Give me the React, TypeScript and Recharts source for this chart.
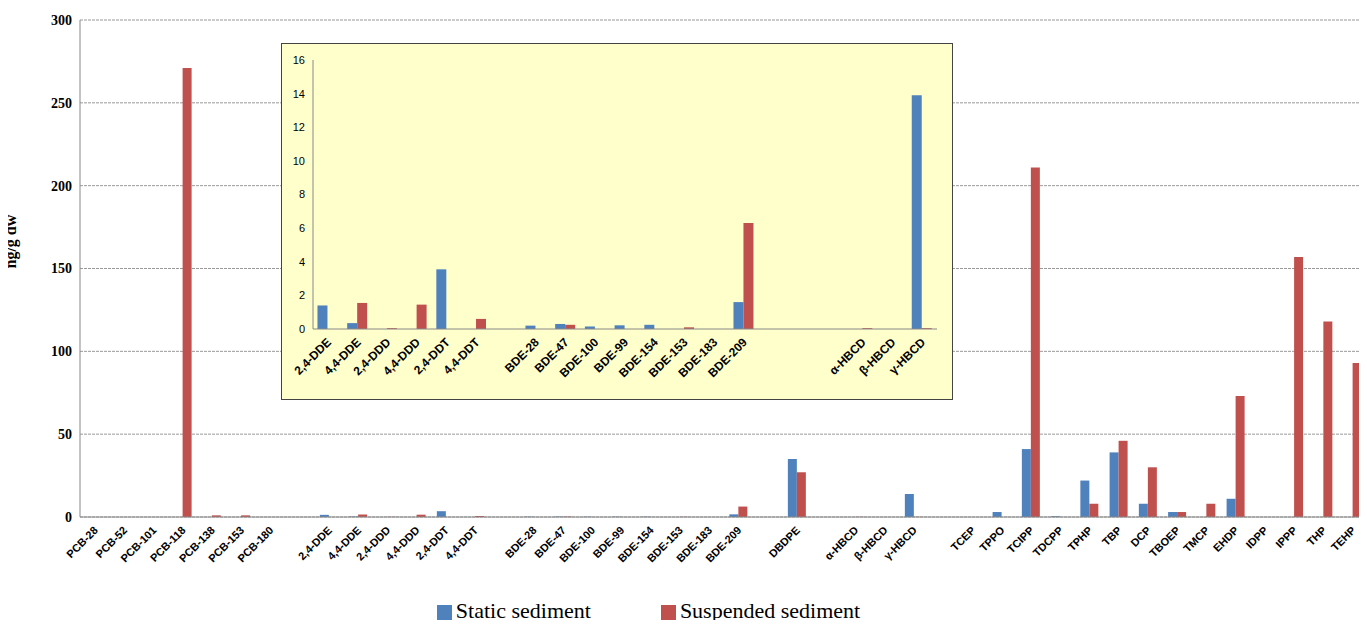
import React from 'react';
import { BarChart, Bar, XAxis, YAxis, CartesianGrid, Legend } from 'recharts';

const categories = ['PCB-28','PCB-52','PCB-101','PCB-118','PCB-138','PCB-153','PCB-180','',
  '2,4-DDE','4,4-DDE','2,4-DDD','4,4-DDD','2,4-DDT','4,4-DDT',' ',
  'BDE-28','BDE-47','BDE-100','BDE-99','BDE-154','BDE-153','BDE-183','BDE-209','  ',
  'DBDPE','   ','α-HBCD','β-HBCD','γ-HBCD','    ',
  'TCEP','TPPO','TCIPP','TDCPP','TPHP','TBP','DCP','TBOEP','TMCP','EHDP','IDPP','IPPP','THP','TEHP'];
const staticVals = [0,0,0,0,0,0,0,0, 1.3,0.3,0,0,3.5,0,0, 0.2,0.25,0.15,0.2,0.2,0,0,1.6,0, 35,0,0,0,13.9,0,
  0,3,41,0.5,22,39,8,3,0,11,0,0,0,0];
const suspendedVals = [0,0,0,271,1,1,0,0, 0,1.5,0.1,1.4,0,0.6,0, 0,0.25,0,0,0,0.1,0,6.3,0, 27,0,0.1,0,0.1,0,
  0,0,211,0,8,46,30,3,8,73,0,157,118,93];
const mainTicks = [0, 50, 100, 150, 200, 250, 300];

const insetCats = ['2,4-DDE','4,4-DDE','2,4-DDD','4,4-DDD','2,4-DDT','4,4-DDT','',
  'BDE-28','BDE-47','BDE-100','BDE-99','BDE-154','BDE-153','BDE-183','BDE-209',' ','  ','   ',
  'α-HBCD','β-HBCD','γ-HBCD'];
const insetStatic = [1.4,0.35,0,0,3.55,0,0, 0.2,0.3,0.15,0.22,0.25,0,0,1.6,0,0,0, 0,0,13.9];
const insetSusp = [0,1.55,0.05,1.45,0,0.6,0, 0,0.25,0,0,0,0.1,0,6.3,0,0,0, 0.05,0,0.05];
const insetTicks = [0,2,4,6,8,10,12,14,16];

const BLUE = '#4F81BD';
const RED = '#C0504D';

const mainData = categories.map((c, i) => ({ name: c, s: staticVals[i], p: suspendedVals[i] }));
const insetData = insetCats.map((c, i) => ({ name: c, s: insetStatic[i], p: insetSusp[i] }));

const RotTick = (props: any) => {
  const { x, y, payload, fs = 11 } = props;
  return (
    <text x={x + 4} y={y + 6} transform={`rotate(-45 ${x + 4} ${y + 6})`} textAnchor="end"
      fontFamily="Arial" fontWeight="bold" fontSize={fs} fill="#000">{payload.value}</text>
  );
};

export default function App() {
  return (
    <div style={{ margin: -8, position: 'relative', width: 1367, height: 628, background: '#fff' }}>
      <BarChart width={1367} height={628} data={mainData} barCategoryGap="20%" barGap={0}
        margin={{ top: 20, right: 0, left: 0, bottom: 0 }}>
        <CartesianGrid vertical={false} stroke="#999" strokeDasharray="3 1" />
        <XAxis dataKey="name" interval={0} tick={<RotTick />} height={70} stroke="#888" tickLine={false} />
        <YAxis domain={[0, 300]} ticks={mainTicks} width={80} stroke="#888" tickLine={false}
          tick={{ fontFamily: 'Times New Roman, Liberation Serif', fontWeight: 'bold', fontSize: 14, fill: '#000' }}
          label={{ value: 'ng/g dw', angle: -90, position: 'insideLeft', offset: 10,
            style: { fontFamily: 'Liberation Serif', fontWeight: 'bold', fontSize: 16, fill: '#000' } }} />
        <Legend verticalAlign="bottom" height={41} iconType="square" iconSize={15}
          wrapperStyle={{ fontFamily: 'Liberation Serif', fontSize: 22, color: '#000', top: 598 }}
          formatter={(v: string) => <span style={{ color: '#000', marginRight: 60 }}>{v}</span>} />
        <Bar dataKey="s" name="Static sediment" fill={BLUE} isAnimationActive={false} />
        <Bar dataKey="p" name="Suspended sediment" fill={RED} isAnimationActive={false} />
      </BarChart>
      <div style={{ position: 'absolute', left: 281, top: 43, width: 672, height: 357,
        background: '#FFFFCC', border: '1px solid #444', boxSizing: 'border-box' }}>
        <BarChart width={670} height={355} data={insetData} barCategoryGap="15%" barGap={0}
          margin={{ top: 16, right: 15, left: 0, bottom: 0 }}>
          <XAxis dataKey="name" interval={0} tick={<RotTick fs={12} />} height={70} stroke="#888" tickLine={false} />
          <YAxis domain={[0, 16]} ticks={insetTicks} width={31} stroke="#888" tickLine={false}
            tick={{ fontFamily: 'Arial', fontSize: 11, fill: '#000' }} />
          <Bar dataKey="s" fill={BLUE} isAnimationActive={false} />
          <Bar dataKey="p" fill={RED} isAnimationActive={false} />
        </BarChart>
      </div>
    </div>
  );
}
